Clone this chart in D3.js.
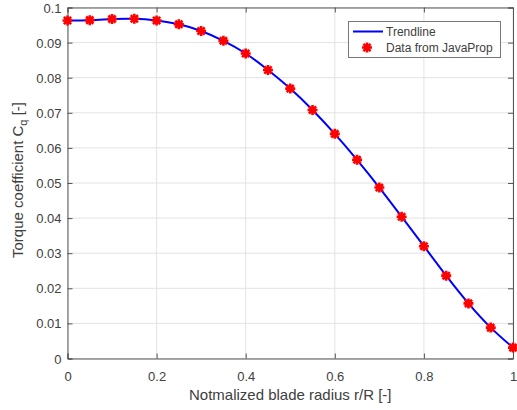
<!DOCTYPE html>
<html>
<head>
<meta charset="utf-8">
<script src="https://cdn.jsdelivr.net/npm/d3@7"></script>
<style>
  body { margin: 0; background: #fff; }
  svg text { font-family: Arial, "Liberation Sans", Helvetica, sans-serif; fill: #404040; }
</style>
</head>
<body>
<div id="chart"></div>
<script>
// data (JavaProp torque coefficient along the blade)
const radius = [0, 0.05, 0.1, 0.15, 0.2, 0.25, 0.3, 0.35, 0.4, 0.45, 0.5,
                0.55, 0.6, 0.65, 0.7, 0.75, 0.8, 0.85, 0.9, 0.95, 1];
const cq = [0.0963, 0.0964, 0.0967, 0.0968, 0.0963, 0.0952, 0.0933, 0.0905, 0.0869, 0.0822, 0.0769,
            0.0708, 0.0640, 0.0566, 0.0487, 0.0404, 0.0320, 0.0236, 0.0157, 0.0088, 0.0031];
const xTicks = [0, 0.2, 0.4, 0.6, 0.8, 1];
const yTicks = [0, 0.01, 0.02, 0.03, 0.04, 0.05, 0.06, 0.07, 0.08, 0.09, 0.1];
const legendLabels = ['Trendline', 'Data from JavaProp'];

const W = 517, H = 410;
const margin = { top: 7.5, right: 4, bottom: 51.5, left: 67.5 };
const width = W - margin.left - margin.right;
const height = H - margin.top - margin.bottom;

const data = radius.map((r, i) => ({ r: r, cq: cq[i] }));

const x = d3.scaleLinear().domain([0, 1]).range([0, width]);
const y = d3.scaleLinear().domain([0, 0.1]).range([height, 0]);

const svg = d3.select('#chart').append('svg')
  .attr('width', W)
  .attr('height', H);

const g = svg.append('g')
  .attr('transform', `translate(${margin.left},${margin.top})`);

// grid
g.selectAll('.gx').data(xTicks).enter().append('line')
  .attr('x1', d => x(d)).attr('x2', d => x(d))
  .attr('y1', 0).attr('y2', height)
  .attr('stroke', '#e3e3e3').attr('stroke-width', 1);
g.selectAll('.gy').data(yTicks).enter().append('line')
  .attr('x1', 0).attr('x2', width)
  .attr('y1', d => y(d)).attr('y2', d => y(d))
  .attr('stroke', '#e3e3e3').attr('stroke-width', 1);

// axes, ticks pointing inward like matlab
const fmt = d => d3.format('~g')(d);
const axColor = '#555';

const xAxis = g.append('g')
  .attr('transform', `translate(0,${height})`)
  .call(d3.axisBottom(x).tickValues(xTicks).tickSize(-5).tickPadding(13).tickFormat(fmt));
const xTop = g.append('g')
  .call(d3.axisTop(x).tickValues(xTicks).tickSize(-5).tickFormat(''));
const yAxis = g.append('g')
  .call(d3.axisLeft(y).tickValues(yTicks).tickSize(-5).tickPadding(6).tickFormat(fmt));
const yRight = g.append('g')
  .attr('transform', `translate(${width},0)`)
  .call(d3.axisRight(y).tickValues(yTicks).tickSize(-5).tickFormat(''));

[xAxis, xTop, yAxis, yRight].forEach(a => {
  a.select('.domain').attr('stroke', axColor).attr('stroke-width', 1);
  a.selectAll('.tick line').attr('stroke', axColor);
  a.selectAll('.tick text').style('font-size', '13px').attr('fill', '#404040');
});
yAxis.selectAll('.tick text').attr('dy', '0.35em');

// trendline
const line = d3.line()
  .x(d => x(d.r))
  .y(d => y(d.cq))
  .curve(d3.curveNatural);

g.append('path')
  .datum(data)
  .attr('d', line)
  .attr('fill', 'none')
  .attr('stroke', '#0000ff')
  .attr('stroke-width', 2);

// asterisk markers
const star = 'M-5,0L5,0M0,-5L0,5M-3.6,-3.6L3.6,3.6M-3.6,3.6L3.6,-3.6';
g.selectAll('.pt').data(data).enter().append('path')
  .attr('transform', d => `translate(${x(d.r)},${y(d.cq)})`)
  .attr('d', star)
  .attr('stroke', '#ff0000')
  .attr('stroke-width', 2.6)
  .attr('fill', 'none');

// axis labels
svg.append('text')
  .attr('x', margin.left + width / 2)
  .attr('y', 399.5)
  .attr('text-anchor', 'middle')
  .style('font-size', '15px')
  .text('Notmalized blade radius r/R [-]');

const yl = svg.append('text')
  .attr('transform', 'translate(23,180) rotate(-90)')
  .attr('text-anchor', 'middle')
  .style('font-size', '15px');
yl.append('tspan').text('Torque coefficient C');
yl.append('tspan').attr('dy', 4).style('font-size', '11px').text('q');
yl.append('tspan').attr('dy', -4).text(' [-]');

// legend
const lg = svg.append('g');
lg.append('rect')
  .attr('x', 348.5).attr('y', 21.5)
  .attr('width', 152).attr('height', 36)
  .attr('fill', '#fff')
  .attr('stroke', '#777').attr('stroke-width', 1);
lg.append('line')
  .attr('x1', 353).attr('x2', 383)
  .attr('y1', 31.5).attr('y2', 31.5)
  .attr('stroke', '#0000ff').attr('stroke-width', 2);
lg.append('path')
  .attr('transform', 'translate(367,47.5)')
  .attr('d', star)
  .attr('stroke', '#ff0000').attr('stroke-width', 2.6)
  .attr('fill', 'none');
lg.selectAll('.lt').data(legendLabels).enter().append('text')
  .attr('x', 386)
  .attr('y', (d, i) => 31.5 + i * 16)
  .attr('dy', '0.35em')
  .style('font-size', '12px')
  .attr('fill', '#222')
  .text(d => d);
</script>
</body>
</html>
